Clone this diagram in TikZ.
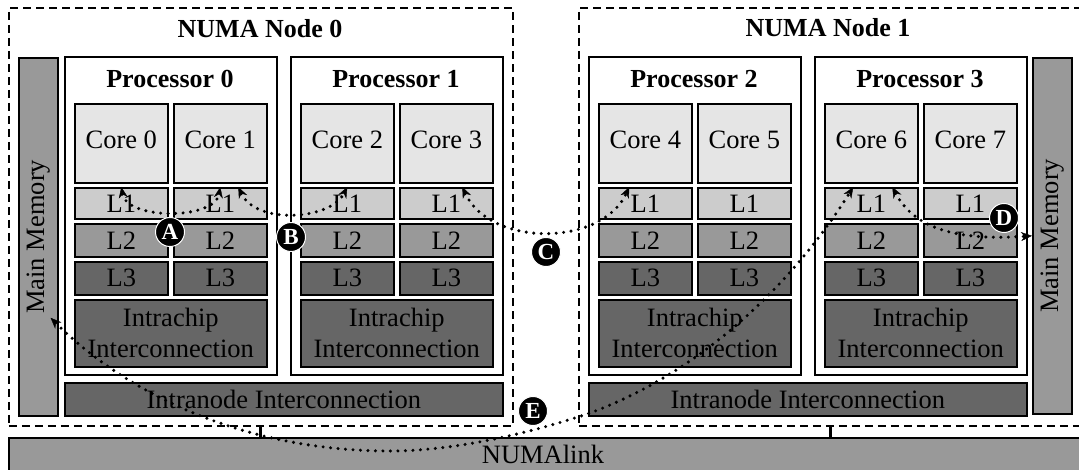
\documentclass[tikz,border=0pt]{standalone}
\usepackage{fontspec}
\setmainfont{Liberation Serif}
\usetikzlibrary{arrows.meta}

\definecolor{coregray}{gray}{0.90}
\definecolor{lonegray}{gray}{0.80}
\definecolor{ltwogray}{gray}{0.60}
\definecolor{deepgray}{gray}{0.40}

\begin{document}
\begin{tikzpicture}[x=1pt, y=-1pt,
  txt/.style={font=\fontsize{26.5}{31}\selectfont},
  cell/.style={draw=black, line width=1.6pt, inner sep=0pt, anchor=north west, align=center, txt},
  corebox/.style={cell, fill=coregray, minimum width=93pt, minimum height=79pt, text depth=8pt},
  lone/.style={cell, fill=lonegray, minimum width=93pt, minimum height=31pt},
  ltwo/.style={cell, fill=ltwogray, minimum width=93pt, minimum height=33pt},
  lthree/.style={cell, fill=deepgray, minimum width=93pt, minimum height=33pt},
  chipnet/.style={cell, fill=deepgray, minimum width=192pt, minimum height=67pt},
  procbox/.style={cell, fill=white, minimum width=212pt, minimum height=318pt},
  nodenet/.style={cell, fill=deepgray, minimum width=438pt, minimum height=33pt},
  membox/.style={cell, fill=ltwogray, minimum width=39pt},
  numabox/.style={draw=black, line width=1.6pt, dash pattern=on 8pt off 5pt, inner sep=0pt,
                  anchor=north west, minimum width=504pt, minimum height=418pt},
  headline/.style={font=\bfseries\fontsize{26}{31}\selectfont, anchor=base, inner sep=0pt},
  pathflow/.style={line width=3.4pt, dash pattern=on 0pt off 7.5pt, line cap=round,
                   {Stealth[length=11pt,width=9pt,line width=0.4pt]}-{Stealth[length=11pt,width=9pt,line width=0.4pt]}},
  badge/.style={circle, fill=black, draw=white, line width=1pt, text=white, inner sep=0pt,
                minimum size=29pt, font=\bfseries\fontsize{23}{23}\selectfont},
]
\useasboundingbox (0,0) rectangle (1079,470);
\clip (0,0) rectangle (1079,470);

% NUMAlink backbone
\node[cell, fill=ltwogray, minimum width=1090pt, minimum height=35pt] (numalink) at (8,437) {};
\node[txt] (numalinktext) at (543,454) {NUMAlink};

% NUMA node frames
\node[numabox] (numa0) at (8,7) {};
\node[numabox] (numa1) at (578,7) {};
\node[headline] (numatitle0) at (260,38) {NUMA Node 0};
\node[headline] (numatitle1) at (828,37) {NUMA Node 1};

% links from each node to NUMAlink
\draw[line width=3pt] (numa0.south) -- (numa0.south |- numalink.north);
\draw[line width=3pt] (numa1.south) -- (numa1.south |- numalink.north);

% main memories
\node[membox, minimum height=358pt] (mm0) at (18,57) {};
\node[txt, rotate=90] (mm0text) at (mm0.center) {Main Memory};
\node[membox, minimum height=356pt] (mm1) at (1032,57) {};
\node[txt, rotate=90] (mm1text) at (mm1.center) {Main Memory};

% intranode interconnections
\node[nodenet] (inode0) at (64,382) {Intranode Interconnection};
\node[nodenet] (inode1) at (588,382) {Intranode Interconnection};

% processors with their cores and caches
\foreach \p/\x in {0/64,1/290,2/588,3/814}{
  \pgfmathtruncatemacro\ca{2*\p}
  \pgfmathtruncatemacro\cb{2*\p+1}
  \node[procbox] (proc\p) at (\x,56) {};
  \node[headline] (ptitle\p) at (\x+106,88) {Processor \p};
  \node[corebox] (core\ca) at (\x+10,103) {Core \ca};
  \node[corebox] (core\cb) at (\x+109,103) {Core \cb};
  \node[lone] (lone\ca) at (\x+10,187) {L1};
  \node[lone] (lone\cb) at (\x+109,187) {L1};
  \node[ltwo] (ltwo\ca) at (\x+10,223) {L2};
  \node[ltwo] (ltwo\cb) at (\x+109,223) {L2};
  \node[lthree] (lthree\ca) at (\x+10,261) {L3};
  \node[lthree] (lthree\cb) at (\x+109,261) {L3};
  \node[chipnet] (chip\p) at (\x+10,299) {Intrachip\\Interconnection};
}

% communication paths
\coordinate (ebottom) at (390,451);
\coordinate (erise) at (590,413);

\draw[pathflow] (lone0.north) .. controls +(6,33) and +(-6,33) .. (lone1.north);
\draw[pathflow] ([xshift=18pt]lone1.north) .. controls +(18,38) and +(-17,33) .. (lone2.north);
\draw[pathflow] ([xshift=16pt]lone3.north) .. controls +(28,60) and +(-28,60) .. ([xshift=-16pt]lone4.north);
\draw[pathflow] ([xshift=21pt]lone6.north) .. controls +(23,43) and +(-72,5) .. (mm1.west);
\draw[pathflow] ([xshift=-8pt,yshift=-81pt]mm0.east) .. controls +(73,73) and (240,451) .. (ebottom)
  .. controls (460,451) and (540,430) .. (erise)
  .. controls (712,368) and (800,272) .. ([xshift=-18pt]lone6.north);

% path markers
\node[badge] (badgeA) at (170,232) {A};
\node[badge] (badgeB) at (291,237) {B};
\node[badge] (badgeC) at (546,252) {C};
\node[badge] (badgeD) at (1004,218) {D};
\node[badge] (badgeE) at (533,411) {E};
\end{tikzpicture}
\end{document}
